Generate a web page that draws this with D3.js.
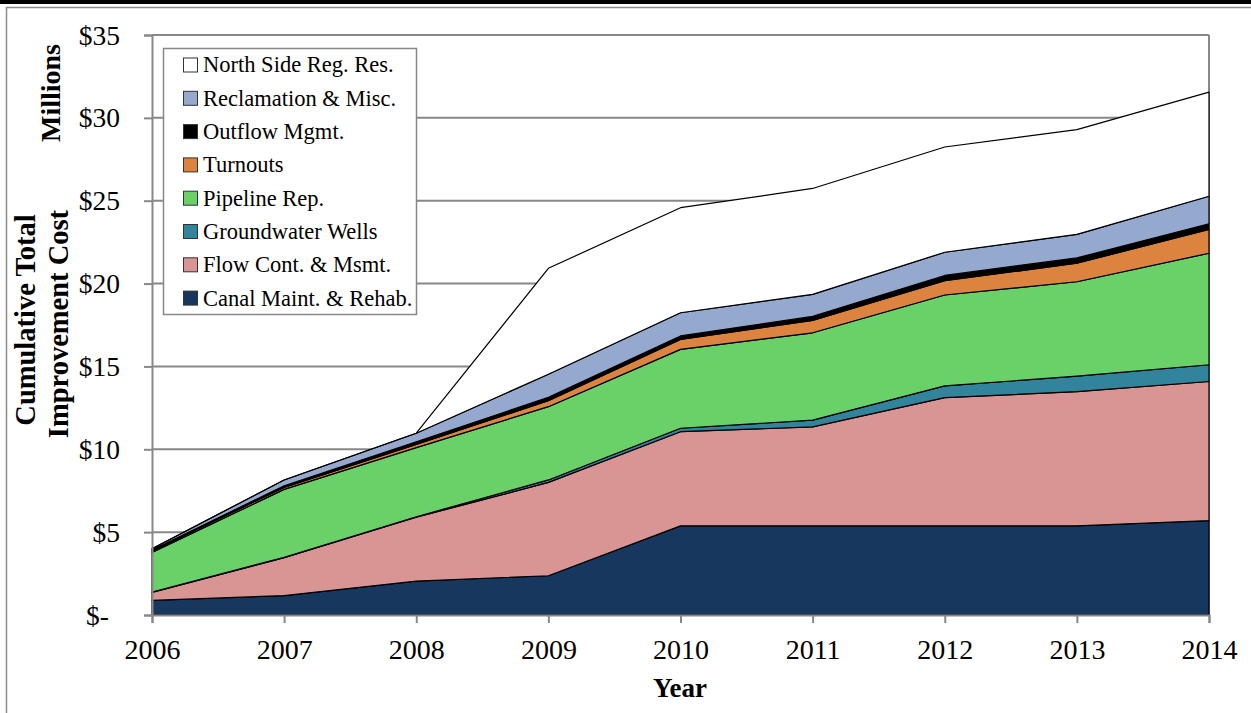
<!DOCTYPE html>
<html>
<head>
<meta charset="utf-8">
<script src="https://cdn.jsdelivr.net/npm/d3@7"></script>
<style>
  html, body { margin: 0; padding: 0; background: #fff; }
  svg { display: block; }
  text { font-family: "Liberation Serif", "Times New Roman", serif; fill: #000; }
</style>
</head>
<body>
<svg id="chart" width="1251" height="713"></svg>
<script>
// ---- data (millions of dollars, per category, by year) ----
const years = [2006, 2007, 2008, 2009, 2010, 2011, 2012, 2013, 2014];
const canalMaint   = [0.88, 1.17, 2.05, 2.37, 5.38, 5.38, 5.38, 5.38, 5.70];
const flowCont     = [0.49, 2.29, 3.85, 5.63, 5.68, 5.97, 7.74, 8.10, 8.39];
const groundwater  = [0.02, 0.02, 0.03, 0.15, 0.21, 0.41, 0.71, 0.93, 1.01];
const pipelineRep  = [2.39, 4.10, 4.17, 4.42, 4.76, 5.27, 5.48, 5.70, 6.73];
const turnouts     = [0.08, 0.12, 0.20, 0.36, 0.60, 0.75, 0.86, 1.12, 1.44];
const outflowMgmt  = [0.06, 0.10, 0.15, 0.20, 0.21, 0.24, 0.32, 0.32, 0.34];
const reclamation  = [0.08, 0.35, 0.52, 1.40, 1.40, 1.33, 1.40, 1.42, 1.66];
const northSide    = [0.00, 0.00, 0.00, 6.39, 6.34, 6.39, 6.35, 6.32, 6.28];

const seriesNames = ["Canal Maint. & Rehab.", "Flow Cont. & Msmt.", "Groundwater Wells",
  "Pipeline Rep.", "Turnouts", "Outflow Mgmt.", "Reclamation & Misc.", "North Side Reg. Res."];
const seriesValues = [canalMaint, flowCont, groundwater, pipelineRep, turnouts, outflowMgmt, reclamation, northSide];
const seriesColors = ["#17375E", "#D99594", "#31849B", "#69D168", "#DC843F", "#000000", "#95A9CF", "#FFFFFF"];
const yTicks = [0, 5, 10, 15, 20, 25, 30, 35];

// ---- layout ----
const svg = d3.select("#chart");
const plot = { left: 152, right: 1209, top: 35, bottom: 615 };
const gridColor = "#888888";

// page decorations: top rule and chart frame
svg.append("rect").attr("x", 0).attr("y", 0).attr("width", 1251).attr("height", 4).attr("fill", "#000");
svg.append("rect").attr("x", 6.5).attr("y", 7.5).attr("width", 1260).attr("height", 720)
  .attr("fill", "none").attr("stroke", "#8c8c8c").attr("stroke-width", 1.5);

const x = d3.scaleLinear().domain([years[0], years[years.length - 1]]).range([plot.left, plot.right]);
const y = d3.scaleLinear().domain([0, 35]).range([plot.bottom, plot.top]);

// gridlines
svg.append("g").selectAll("line").data(yTicks.filter(d => d > 0)).join("line")
  .attr("x1", plot.left).attr("x2", plot.right)
  .attr("y1", d => y(d)).attr("y2", d => y(d))
  .attr("stroke", gridColor).attr("stroke-width", 2);
// right border
svg.append("line").attr("x1", plot.right).attr("x2", plot.right).attr("y1", plot.top).attr("y2", plot.bottom)
  .attr("stroke", gridColor).attr("stroke-width", 2);

// stacked areas
const table = years.map((yr, i) => {
  const row = { year: yr };
  seriesNames.forEach((n, k) => row[n] = seriesValues[k][i]);
  return row;
});
const stack = d3.stack().keys(seriesNames);
const stacked = stack(table);
const area = d3.area().x(d => x(d.data.year)).y0(d => y(d[0])).y1(d => y(d[1]));
svg.append("g").selectAll("path").data(stacked).join("path")
  .attr("d", area)
  .attr("fill", (d, i) => seriesColors[i])
  .attr("stroke", "#000").attr("stroke-width", 1.2).attr("stroke-linejoin", "round");

// axes
const yAxis = d3.axisLeft(y).tickValues(yTicks).tickSize(8).tickPadding(24)
  .tickFormat(d => d === 0 ? "$-" : "$" + d);
const gy = svg.append("g").attr("transform", `translate(${plot.left},0)`).call(yAxis);
gy.select(".domain").attr("stroke", gridColor).attr("stroke-width", 2);
gy.selectAll(".tick line").attr("stroke", gridColor).attr("stroke-width", 2);
gy.selectAll(".tick text").attr("font-family", "Liberation Serif").attr("font-size", 27.5).attr("fill", "#000")
  .attr("dy", "0.33em")
  .attr("dx", d => d === 0 ? -11 : 0);

const xAxis = d3.axisBottom(x).tickValues(years).tickSize(8).tickPadding(16).tickFormat(d3.format("d"));
const gx = svg.append("g").attr("transform", `translate(0,${plot.bottom})`).call(xAxis);
gx.select(".domain").attr("stroke", gridColor).attr("stroke-width", 2);
gx.selectAll(".tick line").attr("stroke", gridColor).attr("stroke-width", 2);
gx.selectAll(".tick text").attr("font-family", "Liberation Serif").attr("font-size", 28).attr("fill", "#000");

// axis titles
svg.append("text").attr("x", 680).attr("y", 697).attr("text-anchor", "middle")
  .attr("font-weight", "bold").attr("font-size", 27).text("Year");
svg.append("text").attr("transform", "translate(35,320) rotate(-90)").attr("text-anchor", "middle")
  .attr("font-weight", "bold").attr("font-size", 28.5).text("Cumulative Total");
svg.append("text").attr("transform", "translate(68,324) rotate(-90)").attr("text-anchor", "middle")
  .attr("font-weight", "bold").attr("font-size", 28.5).text("Improvement Cost");
svg.append("text").attr("transform", "translate(60,93) rotate(-90)").attr("text-anchor", "middle")
  .attr("font-weight", "bold").attr("font-size", 28).text("Millions");

// legend
const legend = svg.append("g");
legend.append("rect").attr("x", 163.5).attr("y", 48.5).attr("width", 253).attr("height", 266)
  .attr("fill", "#fff").attr("stroke", gridColor).attr("stroke-width", 1.5);
const legendOrder = d3.range(seriesNames.length).reverse();
const rows = legend.selectAll("g.row").data(legendOrder).join("g")
  .attr("transform", (d, i) => `translate(183,${65 + i * 33.3})`);
rows.append("rect").attr("x", 0.5).attr("y", -7).attr("width", 14).attr("height", 14)
  .attr("fill", d => seriesColors[d]).attr("stroke", "#333").attr("stroke-width", 1);
rows.append("text").attr("x", 20).attr("y", 0).attr("dy", "0.33em")
  .attr("font-size", 22.5).text(d => seriesNames[d]);
</script>
</body>
</html>
